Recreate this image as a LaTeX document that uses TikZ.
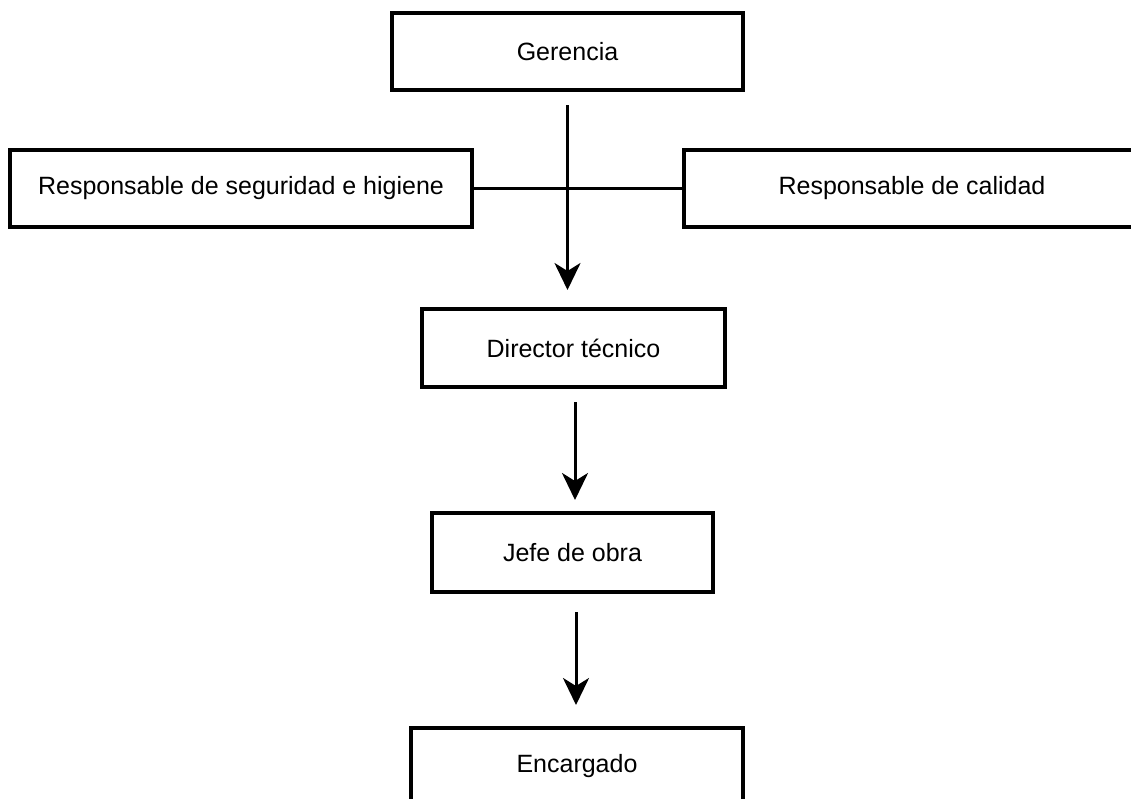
\documentclass[tikz,border=0pt]{standalone}
\usepackage{fontspec}
\setmainfont{Liberation Sans}
\usetikzlibrary{arrows.meta}

\tikzset{
  box/.style={draw=black, line width=4pt, fill=white, inner sep=0pt,
              font=\fontsize{25}{30}\selectfont, text=black},
  link/.style={draw=black, line width=3pt},
  arrowlink/.style={link, -{Stealth[length=27pt, width=26pt, inset=8pt]}}
}

\begin{document}
\begin{tikzpicture}[x=1pt, y=-1pt]
  \useasboundingbox (0,0) rectangle (1131,798);
  \clip (0,0) rectangle (1131,798);

  % organisation chart boxes
  \node[box, minimum width=351pt, minimum height=77pt] (ger) at (567.5,51.5) {Gerencia};
  \node[box, minimum width=462pt, minimum height=77pt] (seg) at (241,188.5) {Responsable de seguridad e higiene};
  \node[box, minimum width=470pt, minimum height=77pt, anchor=west] (cal) at (682,188.5) {};
  \node[font=\fontsize{25}{30}\selectfont] (caltext) at (912,188.5) {Responsable de calidad};
  \node[box, minimum width=303pt, minimum height=78pt] (dir) at (573.5,348) {Director técnico};
  \node[box, minimum width=281pt, minimum height=79pt] (jefe) at (572.5,552.5) {Jefe de obra};
  \node[box, minimum width=332pt, minimum height=77pt] (enc) at (577,766.5) {Encargado};

  % staff line across the main branch
  \draw[link] (seg.east) -- (cal.west);

  % chain of command
  \draw[arrowlink, shorten <=13pt, shorten >=17pt] (ger.south) -- (ger.south |- dir.north);
  \coordinate (d2) at ([xshift=1.5pt]dir.south);
  \draw[arrowlink, shorten <=13pt, shorten >=11pt] (d2) -- (d2 |- jefe.north);
  \coordinate (j2) at ([xshift=3.5pt]jefe.south);
  \draw[arrowlink, shorten <=18pt, shorten >=21pt] (j2) -- (j2 |- enc.north);
\end{tikzpicture}
\end{document}
